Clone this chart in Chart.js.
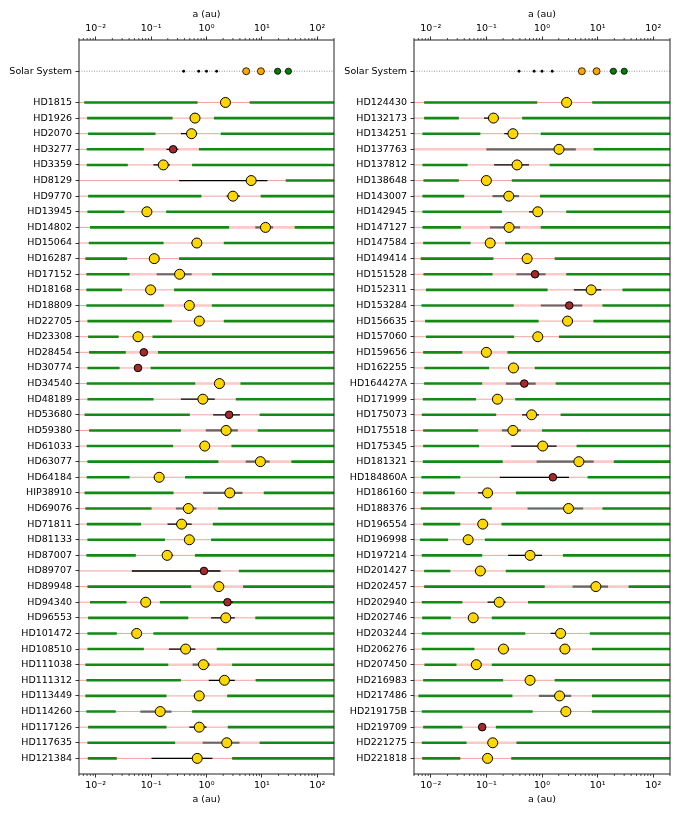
<!DOCTYPE html>
<html>
<head>
<meta charset="utf-8">
<script src="https://cdn.jsdelivr.net/npm/chart.js@4.4.0/dist/chart.umd.min.js"></script>
<style>
  body { margin: 0; background: #fff; }
  #wrap { display: flex; width: 681px; height: 817px; }
  canvas { display: block; }
</style>
</head>
<body>
<div id="wrap">
  <canvas id="left" width="340" height="817"></canvas>
  <canvas id="right" width="341" height="817"></canvas>
</div>
<script>
// ---- axis ----
const A_MIN = 0.005, A_MAX = 200;
const X_TICKS = [0.01, 0.1, 1, 10, 100];
const X_LABELS = ["10\u207B\u00B2", "10\u207B\u00B9", "10\u2070", "10\u00B9", "10\u00B2"];

// ---- solar system ----
const solarA = [0.387, 0.723, 1.0, 1.524, 5.2, 9.58, 19.2, 30.1];
const solarKind = ["rock", "rock", "rock", "rock", "gas", "gas", "ice", "ice"];

// ---- left panel ----
const leftStars = ["HD1815","HD1926","HD2070","HD3277","HD3359","HD8129","HD9770","HD13945","HD14802","HD15064",
  "HD16287","HD17152","HD18168","HD18809","HD22705","HD23308","HD28454","HD30774","HD34540","HD48189",
  "HD53680","HD59380","HD61033","HD63077","HD64184","HIP38910","HD69076","HD71811","HD81133","HD87007",
  "HD89707","HD89948","HD94340","HD96553","HD101472","HD108510","HD111038","HD111312","HD113449","HD114260",
  "HD117126","HD117635","HD121384"];
const leftInner = [[0.0062,0.69],[0.007,0.244],[0.0073,0.12],[0.0069,0.074],[0.0069,0.038],null,[0.0073,0.81],
  [0.0071,0.033],[0.0079,2.56],[0.0075,0.168],[0.0065,0.037],[0.0068,0.041],[0.0068,0.030],[0.0068,0.17],
  [0.0071,0.237],[0.0073,0.026],[0.0076,0.035],[0.0071,0.027],[0.0069,0.625],[0.0071,0.111],[0.0063,0.5],
  [0.0076,0.345],[0.0069,0.25],[0.0071,1.64],[0.0069,0.041],[0.0063,0.254],[0.0065,0.102],[0.0069,0.066],
  [0.0071,0.178],[0.0068,0.053],null,[0.0071,0.53],[0.0079,0.036],[0.0073,0.47],[0.0071,0.024],[0.0071,0.074],
  [0.0065,0.204],[0.0068,0.345],[0.0065,0.19],[0.0068,0.023],[0.0073,0.19],[0.0071,0.272],[0.0072,0.024]];
const leftOuter = [6.0,1.36,1.81,0.73,0.55,26.9,9.5,0.187,39,2.05,0.32,1.26,0.26,1.25,2.05,0.106,0.133,0.098,
  4.1,3.38,9.1,8.4,2.82,34,0.41,10.8,1.62,1.3,1.21,0.62,3.83,4.58,0.144,7.6,0.11,1.53,2.9,7.7,2.36,0.55,2.42,9.1,2.9];
const leftBandRow  = [3, 8, 11, 13, 16, 18, 21, 23, 26, 31, 36, 41];
const leftBandFrom = [0.074, 2.56, 0.041, 0.17, 0.035, 0.625, 0.345, 1.64, 0.102, 0.53, 0.204, 0.272];
const leftBandTo   = [0.73, 39, 1.26, 1.25, 0.133, 4.1, 8.4, 34, 1.62, 4.58, 2.9, 9.1];
const leftPlanetRow = [0,1,2,3,4,5,6,7,8,9,10,11,12,13,14,15,16,17,18,19,20,21,22,23,24,25,26,27,28,29,30,31,32,32,33,34,35,36,37,38,39,40,41,42];
const leftPlanetA  = [2.2,0.62,0.537,0.25,0.166,6.4,3.0,0.084,11.6,0.67,0.114,0.327,0.098,0.49,0.74,0.058,0.074,0.058,1.71,0.86,
  2.56,2.26,0.93,9.4,0.14,2.63,0.47,0.355,0.49,0.195,0.9,1.67,0.08,2.39,2.23,0.055,0.42,0.88,2.11,0.74,0.146,0.74,2.32,0.68];
const leftPlanetLo = [null,null,0.345,0.19,0.11,0.32,2.3,null,7.6,0.54,0.093,0.126,null,null,null,null,null,null,null,0.345,
  1.32,0.97,0.76,5.1,0.112,0.87,0.28,0.198,null,0.16,0.045,null,null,2.0,1.21,null,0.21,0.56,1.1,0.59,0.064,0.49,0.85,0.102];
const leftPlanetHi = [null,null,0.68,0.31,0.218,12.6,4.0,null,15.9,0.81,0.13,0.54,null,null,null,null,null,null,null,1.41,
  4.0,3.67,1.15,13.8,0.166,4.45,0.66,0.54,null,0.25,1.79,null,null,3.0,3.24,null,0.63,1.15,3.24,0.89,0.234,1.0,3.94,1.28];
const leftPlanetType = ["y","y","y","b","y","y","y","y","y","y","y","y","y","y","y","y","b","b","y","y",
  "b","y","y","y","y","y","y","y","y","y","b","y","y","b","y","y","y","y","y","y","y","y","y","y"];
const leftPlanetErr = ["k","k","k","k","k","k","k","k","g","k","k","g","k","k","k","k","k","k","k","k",
  "k","g","k","g","k","g","g","k","k","k","k","k","k","k","k","k","k","g","k","k","g","k","g","k"];

// ---- right panel ----
const rightStars = ["HD124430","HD132173","HD134251","HD137763","HD137812","HD138648","HD143007","HD142945","HD147127","HD147584",
  "HD149414","HD151528","HD152311","HD153284","HD156635","HD157060","HD159656","HD162255","HD164427A","HD171999",
  "HD175073","HD175518","HD175345","HD181321","HD184860A","HD186160","HD188376","HD196554","HD196998","HD197214",
  "HD201427","HD202457","HD202940","HD202746","HD203244","HD206276","HD207450","HD216983","HD217486","HD219175B",
  "HD219709","HD221275","HD221818"];
const rightInner = [[0.0076,0.82],[0.0076,0.032],[0.0071,0.078],null,[0.0071,0.046],[0.0074,0.032],[0.0071,0.04],
  [0.0071,0.19],[0.0071,0.035],[0.0073,0.052],[0.0066,0.134],[0.0074,0.129],[0.0082,1.26],[0.0068,0.31],[0.0079,0.87],
  [0.0082,0.315],[0.0073,0.037],[0.0077,0.112],[0.0076,0.084],[0.0072,0.065],[0.0069,0.15],[0.0073,0.071],[0.0073,0.074],
  [0.0072,0.197],[0.0068,0.034],[0.0073,0.027],[0.0066,0.125],[0.0073,0.034],[0.0064,0.0205],[0.0069,0.084],[0.0076,0.0225],
  [0.0076,1.12],[0.0069,0.037],[0.007,0.023],[0.0069,0.50],[0.0069,0.061],[0.0077,0.029],[0.0073,0.2],[0.006,0.294],
  [0.0069,0.68],[0.0073,0.037],[0.0069,0.044],[0.007,0.034]];
const rightOuter = [8.0,0.44,0.95,8.5,1.37,0.286,0.92,2.73,0.95,0.217,1.69,2.73,28,12.2,8.4,2.02,0.239,0.74,1.76,0.33,
  2.16,1.0,4.18,19.5,6.6,0.34,12.2,0.187,0.094,2.38,0.223,36,0.56,0.125,7.24,7.9,0.125,1.69,7.9,7.9,0.148,0.347,0.28];
const rightBandRow  = [3, 8, 11, 13, 16, 18, 21, 23, 26, 31, 36, 41];
const rightBandFrom = [0.005, 0.035, 0.129, 0.31, 0.037, 0.084, 0.071, 0.197, 0.125, 1.12, 0.029, 0.044];
const rightBandTo   = [8.5, 0.95, 2.73, 12.2, 0.239, 1.76, 1.0, 19.5, 12.2, 36, 0.125, 0.347];
const rightPlanetRow = [0,1,2,3,4,5,6,7,8,9,10,11,12,13,14,15,16,17,18,19,20,21,22,23,24,25,26,27,28,29,30,31,32,33,34,35,35,36,37,38,39,40,41,42];
const rightPlanetA  = [2.77,0.134,0.30,2.02,0.356,0.1,0.253,0.84,0.256,0.117,0.54,0.75,7.65,3.09,2.88,0.84,0.1,0.307,0.48,0.158,
  0.65,0.30,1.03,4.6,1.57,0.105,3.0,0.086,0.047,0.61,0.078,9.3,0.17,0.058,2.16,0.203,2.58,0.066,0.61,2.07,2.69,0.084,0.13,0.105];
const rightPlanetLo = [null,0.091,0.21,0.1,0.138,null,0.129,0.585,0.116,null,0.44,0.347,3.74,0.95,null,null,null,null,0.224,null,
  0.44,0.19,0.28,0.8,0.174,0.071,0.55,null,null,0.246,null,3.54,0.105,null,1.43,0.163,2.16,null,null,0.88,2.16,null,null,null];
const rightPlanetHi = [null,0.154,0.37,4.06,0.585,null,0.387,1.0,0.404,null,0.62,1.16,11.6,5.3,null,null,null,null,0.77,null,
  0.88,0.415,1.83,8.5,3.05,0.129,5.5,null,null,1.0,null,15.4,0.223,null,2.65,0.24,3.09,null,null,3.35,3.26,null,null,null];
const rightPlanetType = ["y","y","y","y","y","y","y","y","y","y","y","b","y","b","y","y","y","y","b","y",
  "y","y","y","y","b","y","y","y","y","y","y","y","y","y","y","y","y","y","y","y","y","b","y","y"];
const rightPlanetErr = ["k","k","k","g","k","k","g","k","g","k","k","g","k","g","k","k","k","k","g","k",
  "k","g","k","g","k","k","g","k","k","k","k","g","k","k","k","k","k","k","k","g","k","k","k","k"];

Chart.defaults.font.family = "'DejaVu Sans', sans-serif";
Chart.defaults.font.size = 9.5;
Chart.defaults.color = "#000";

// list of [row, from, to] -> one broken polyline
function segments(list) {
  const pts = [];
  list.forEach(([y, a, b]) => { pts.push({x: a, y: y}, {x: b, y: y}, {x: 1, y: null}); });
  return pts;
}

function lineSet(data, color, width, order, dash) {
  return { type: "line", data, borderColor: color, borderWidth: width, borderDash: dash || [],
    pointRadius: 0, fill: false, spanGaps: false, order, borderCapStyle: "butt" };
}

function dotSet(data, fill, radius, order, edge) {
  return { type: "line", data, showLine: false, pointRadius: radius, pointBackgroundColor: fill,
    pointBorderColor: "#000", pointBorderWidth: edge, order };
}

const axisFrame = {
  id: "axisFrame",
  afterDraw(chart) {
    const {ctx, chartArea: a, scales} = chart;
    ctx.save();
    ctx.strokeStyle = "#000";
    ctx.lineWidth = 0.7;
    ["x", "xt"].forEach(id => {
      const s = scales[id];
      const top = id === "xt";
      const y0 = top ? a.top : a.bottom;
      for (let e = -3; e <= 2; e++) {
        for (let k = 2; k <= 9; k++) {
          const v = k * Math.pow(10, e);
          if (v < A_MIN || v > A_MAX) continue;
          const px = s.getPixelForValue(v);
          ctx.beginPath();
          ctx.moveTo(px, y0);
          ctx.lineTo(px, top ? y0 - 2 : y0 + 2);
          ctx.stroke();
        }
      }
    });
    ctx.lineWidth = 1;
    ctx.strokeStyle = "#222";
    ctx.strokeRect(a.left, a.top, a.right - a.left, a.bottom - a.top);
    ctx.restore();
  }
};

function xAxis(pos) {
  return {
    type: "logarithmic", position: pos, min: A_MIN, max: A_MAX,
    afterBuildTicks: s => { s.ticks = X_TICKS.map(v => ({value: v, major: true})); },
    afterFit: s => { s.height = pos === "top" ? 40 : 43; },
    ticks: { callback: v => { const i = X_TICKS.indexOf(v); return i < 0 ? "" : X_LABELS[i]; },
      autoSkip: false, maxRotation: 0, padding: 2, color: "#000" },
    grid: { display: true, drawOnChartArea: false, drawTicks: true, tickLength: 3.5, tickColor: "#000", tickWidth: 0.8 },
    border: { display: false },
    title: { display: true, text: "a (au)", color: "#000",
      padding: pos === "top" ? {top: 9, bottom: 0} : {top: 0, bottom: 12} }
  };
}

function makePanel(id, stars, inner, outer, bandRow, bandFrom, bandTo, pRow, pA, pLo, pHi, pType, pErr, yWidth, padRight) {
  const thin = segments(stars.map((s, i) => [i, A_MIN, A_MAX]));
  const green = [];
  stars.forEach((s, i) => {
    if (inner[i]) green.push([i, inner[i][0], inner[i][1]]);
    green.push([i, outer[i], A_MAX]);
  });
  const band = bandRow.map((r, k) => [r, bandFrom[k], bandTo[k]]);
  const errK = [], errG = [];
  pRow.forEach((r, k) => {
    if (pLo[k] == null) return;
    (pErr[k] === "g" ? errG : errK).push([r, pLo[k], pHi[k]]);
  });
  const giants = [], browns = [];
  pRow.forEach((r, k) => { (pType[k] === "b" ? browns : giants).push({x: pA[k], y: r}); });

  const solarPts = kind => solarA.map((a, i) => ({x: a, y: -2, k: solarKind[i]}))
    .filter(p => p.k === kind).map(p => ({x: p.x, y: p.y}));

  const rowTicks = [-2].concat(stars.map((s, i) => i));

  new Chart(document.getElementById(id), {
    type: "line",
    data: {
      datasets: [
        dotSet(giants, "#FFD700", 5, 0, 1),
        dotSet(browns, "#A52A2A", 3.8, 0, 1),
        dotSet(solarPts("rock"), "#000", 1.4, 0, 0),
        dotSet(solarPts("gas"), "#FFA500", 3.5, 0, 0.8),
        dotSet(solarPts("ice"), "#008000", 3.1, 0, 0.8),
        lineSet(segments(errK), "#000", 1.3, 1),
        lineSet(segments(errG), "#666", 2.2, 1),
        lineSet(segments(green), "#138a13", 2.6, 2),
        lineSet(segments(band), "#ffc8c8", 2.6, 3),
        lineSet(thin, "#f4a0a0", 1, 4),
        lineSet(segments([[-2, A_MIN, A_MAX]]), "#999", 1, 4, [1, 1.5])
      ]
    },
    options: {
      responsive: false,
      animation: false,
      events: [],
      layout: { padding: { left: 0, right: padRight, top: 0, bottom: 0 } },
      plugins: { legend: { display: false }, tooltip: { enabled: false } },
      scales: {
        x: xAxis("bottom"),
        xt: xAxis("top"),
        y: {
          type: "linear", reverse: true, min: -4, max: 43,
          afterBuildTicks: s => { s.ticks = rowTicks.map(v => ({value: v})); },
          afterFit: s => { s.width = yWidth; },
          ticks: { callback: v => v === -2 ? "Solar System" : stars[v], autoSkip: false, padding: 3.5, color: "#000" },
          grid: { display: true, drawOnChartArea: false, drawTicks: true, tickLength: 3.5, tickColor: "#000", tickWidth: 0.8 },
          border: { display: false }
        }
      }
    },
    plugins: [axisFrame]
  });
}

makePanel("left", leftStars, leftInner, leftOuter, leftBandRow, leftBandFrom, leftBandTo,
  leftPlanetRow, leftPlanetA, leftPlanetLo, leftPlanetHi, leftPlanetType, leftPlanetErr, 79, 5);
makePanel("right", rightStars, rightInner, rightOuter, rightBandRow, rightBandFrom, rightBandTo,
  rightPlanetRow, rightPlanetA, rightPlanetLo, rightPlanetHi, rightPlanetType, rightPlanetErr, 74, 11);
</script>
</body>
</html>
